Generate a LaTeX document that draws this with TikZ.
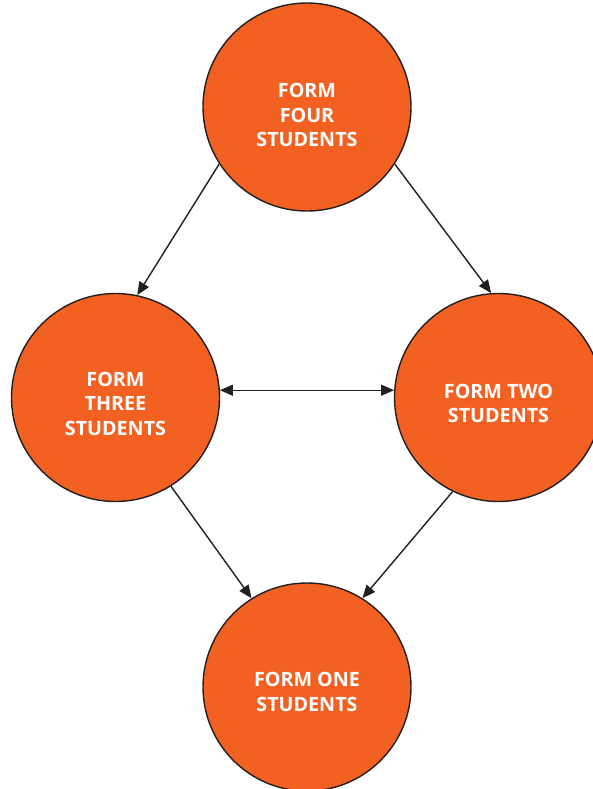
\documentclass[tikz,border=0pt]{standalone}
\usepackage{fontspec}
\setmainfont{Open Sans}
\usetikzlibrary{arrows.meta}
\definecolor{disc}{HTML}{F26122}
\definecolor{ink}{HTML}{231F20}
\tikzset{
  discnode/.style={circle, draw=ink, line width=1.4pt, fill=disc, minimum size=208pt, inner sep=0pt},
  txt/.style={text=white, font=\bfseries\fontsize{19.7}{24.5}\selectfont, align=center, inner sep=0pt},
  conn/.style={draw=ink, line width=1.4pt, -{Triangle[length=13pt,width=11pt]}},
  dconn/.style={draw=ink, line width=1.4pt, {Triangle[length=13pt,width=11pt]}-{Triangle[length=13pt,width=11pt]}}
}
\begin{document}
\begin{tikzpicture}[x=1pt,y=-1pt]
\useasboundingbox (0,0) rectangle (593,789);
\node[discnode] (four) at (307,107) {};
\node[discnode] (three) at (115.5,397.5) {};
\node[discnode] (two) at (498.5,397.5) {};
\node[discnode] (one) at (307,687) {};
\node[txt] (tfour) at (307,115) {FORM\\FOUR\\STUDENTS};
\node[txt] (tthree) at (115.5,403.5) {FORM\\THREE\\STUDENTS};
\node[txt] (ttwo) at (498.5,403.5) {FORM TWO\\STUDENTS};
\node[txt] (tone) at (307,692) {FORM ONE\\STUDENTS};
\draw[conn] (four.213) -- (three.78);
\draw[conn] (four.327) -- (two.94);
\draw[dconn] (three.4) -- (two.176);
\draw[conn] (three.302.6) -- (one.122.6);
\draw[conn] (two.244) -- (one.58);
\end{tikzpicture}
\end{document}
